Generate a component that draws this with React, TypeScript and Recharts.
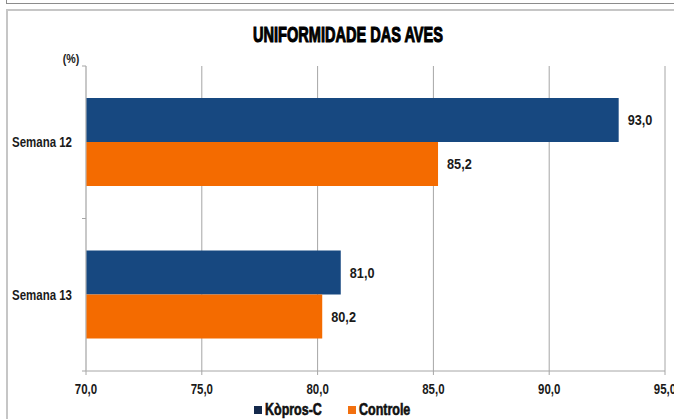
import React from "react";
import { BarChart, Bar, XAxis, YAxis, CartesianGrid, Legend, LabelList } from "recharts";

const categories = ["Semana 12", "Semana 13"];
const koprosValues = [93.0, 81.0];
const controleValues = [85.2, 80.2];
const xTicks = [70, 75, 80, 85, 90, 95];
const seriesNames = ["Kòpros-C", "Controle"];

const data = categories.map((name, i) => ({
  name,
  kopros: koprosValues[i],
  controle: controleValues[i],
}));

const BLUE = "#174880";
const ORANGE = "#F46B00";
const LEGEND_BLUE = "#14294C";
const LEGEND_ORANGE = "#F2700F";
const FONT = "'Liberation Sans', Arial, sans-serif";
const TEXT = "#1a1a1a";
const SQUEEZE = 0.82;

const fmt = (v: number) => v.toFixed(1).replace(".", ",");

function CText(props: any) {
  const { x, y, anchor = "start", size = 14, children, dy = "0.35em", fill = TEXT } = props;
  return (
    <text
      transform={`translate(${x},${y}) scale(${SQUEEZE},1)`}
      x={0}
      y={0}
      dy={dy}
      textAnchor={anchor}
      fontFamily={FONT}
      fontWeight="bold"
      fontSize={size}
      fill={fill}
    >
      {children}
    </text>
  );
}

function YTick(props: any) {
  const { x, y, payload } = props;
  const off = payload && typeof payload.offset === "number" ? payload.offset : 0;
  return (
    <g>
      <CText x={x - 14} y={y} anchor="end" size={14}>
        {payload.value}
      </CText>
      <line x1={x - 4} x2={x} y1={y - off} y2={y - off} stroke="#a6a6a6" />
      <line x1={x - 4} x2={x} y1={y + off} y2={y + off} stroke="#a6a6a6" />
    </g>
  );
}

function XTick(props: any) {
  const { x, y, payload } = props;
  return (
    <CText x={x} y={y} anchor="middle" size={14} dy="0.75em">
      {fmt(Number(payload.value))}
    </CText>
  );
}

function ValueLabel(props: any) {
  const { x, y, width, height, value } = props;
  return (
    <CText x={x + width + 9} y={y + height / 2} anchor="start" size={15.5}>
      {fmt(Number(value))}
    </CText>
  );
}

function LegendContent() {
  const items = [
    { label: seriesNames[0], color: LEGEND_BLUE },
    { label: seriesNames[1], color: LEGEND_ORANGE },
  ];
  return (
    <div style={{ display: "flex", justifyContent: "center", alignItems: "center", height: 18, paddingRight: 9 }}>
      {items.map((it, i) => (
        <div key={i} style={{ display: "flex", alignItems: "center", marginLeft: i === 0 ? 0 : 26 }}>
          <span style={{ display: "inline-block", width: 8, height: 8, background: it.color, marginRight: 3 }} />
          <span
            style={{
              display: "inline-block",
              fontFamily: FONT,
              fontWeight: "bold",
              fontSize: 16,
              color: "#111",
              WebkitTextStroke: "0.6px #111",
              lineHeight: "18px",
              transform: `scaleX(0.78)`,
              transformOrigin: "left center",
              width: it.label === seriesNames[0] ? 57 : 52,
              whiteSpace: "nowrap",
            }}
          >
            {it.label}
          </span>
        </div>
      ))}
    </div>
  );
}

export default function App() {
  return (
    <div style={{ position: "absolute", left: 0, top: 0, width: 674, height: 419, overflow: "hidden", background: "#fff" }}>
      <div style={{ position: "absolute", left: 6, top: -10, width: 720, height: 12, border: "1px solid #8c8c8c" }} />
      <div style={{ position: "absolute", left: 6, top: 9, width: 720, height: 430, border: "2px solid #c6c6c6" }} />
      <div style={{ position: "absolute", left: 0, top: 0 }}>
        <BarChart
          width={674}
          height={419}
          data={data}
          layout="vertical"
          margin={{ top: 66, right: 9, bottom: 0, left: 8 }}
          barGap={0}
        >
          <CartesianGrid horizontal={false} stroke="#a6a6a6" />
          <XAxis
            type="number"
            domain={[70, 95]}
            ticks={xTicks}
            interval={0}
            height={30}
            stroke="#a6a6a6"
            tickSize={4}
            tickMargin={8}
            tick={<XTick />}
          />
          <YAxis
            type="category"
            dataKey="name"
            width={78}
            tickSize={0}
            tickMargin={0}
            tickLine={false}
            stroke="#bdbdbd"
            tick={<YTick />}
          />
          <Legend verticalAlign="bottom" height={18} content={<LegendContent />} />
          <Bar dataKey="kopros" name={seriesNames[0]} fill={BLUE} barSize={44} isAnimationActive={false}>
            <LabelList dataKey="kopros" content={<ValueLabel />} />
          </Bar>
          <Bar dataKey="controle" name={seriesNames[1]} fill={ORANGE} barSize={44} isAnimationActive={false}>
            <LabelList dataKey="controle" content={<ValueLabel />} />
          </Bar>
        </BarChart>
      </div>
      <svg width={674} height={70} style={{ position: "absolute", left: 0, top: 0, pointerEvents: "none" }}>
        <text
          x={348}
          y={42}
          textAnchor="middle"
          textLength={190}
          lengthAdjust="spacingAndGlyphs"
          fontFamily={FONT}
          fontWeight="bold"
          fontSize={22}
          fill="#000"
          stroke="#000"
          strokeWidth={1.1}
        >
          UNIFORMIDADE DAS AVES
        </text>
        <g transform="translate(71,58) scale(0.82,1)">
          <text x={0} y={0} dy="0.35em" textAnchor="middle" fontFamily={FONT} fontWeight="bold" fontSize={13} fill={TEXT}>
            (%)
          </text>
        </g>
      </svg>
    </div>
  );
}
